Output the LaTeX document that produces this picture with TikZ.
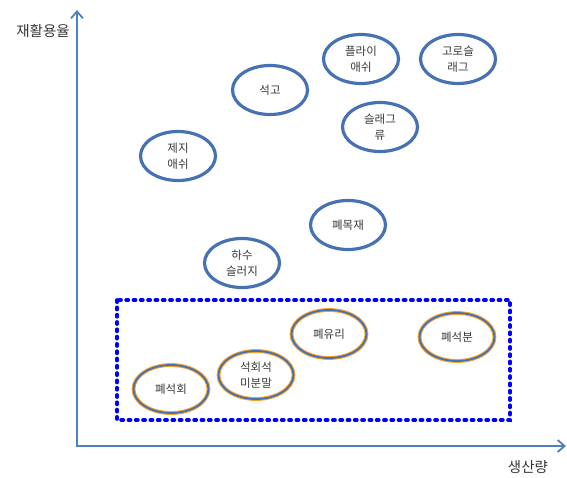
\documentclass[tikz,border=0pt]{standalone}
\usepackage{fontspec}
\newfontfamily\kr{Noto Sans CJK KR}
\usetikzlibrary{arrows.meta,shapes.geometric}
\definecolor{axisblue}{RGB}{79,129,189}
\definecolor{ringblue}{RGB}{70,114,180}
\definecolor{ringorange}{RGB}{247,160,40}
\definecolor{boxblue}{RGB}{0,0,255}
\begin{document}
\begin{tikzpicture}[x=1pt,y=-1pt,
  lbl/.style={font=\kr\fontsize{11.5}{16.5}\selectfont, text=black!78, align=center, inner sep=0pt},
  blueell/.style={draw=ringblue, line width=3.2pt, ellipse, minimum width=75pt, minimum height=49pt, lbl},
  orangeell/.style={draw=ringorange, double=ringblue, line width=1pt, double distance=1.8pt, ellipse, minimum width=75pt, minimum height=48pt, lbl},
  axis/.style={draw=axisblue, line width=1.8pt, -{Straight Barb[length=7pt,width=12pt,line width=1.8pt]}}]
\useasboundingbox (0,0) rectangle (567,477);
\coordinate (o) at (77,446);
\coordinate (ytop) at (77,10);
\coordinate (xend) at (566,446);
\draw[axis] (o) -- (ytop);
\draw[axis] ([xshift=-0.9pt]o) -- (xend);
\node[font=\kr\fontsize{14.5}{16}\selectfont, text=black!78] (ylab) at (43,31) {재활용율};
\node[font=\kr\fontsize{14.5}{16}\selectfont, text=black!78] (xlab) at (528,467) {생산량};
\draw[boxblue, line width=3.6pt, line cap=round, dash pattern=on 2.2pt off 5.1pt] (117,300) rectangle (510,420);
\node[blueell] (sg) at (270,90) {석고};
\node[blueell] (fa) at (361,59) {플라이\\애쉬};
\node[blueell] (gs) at (458,59) {고로슬\\래그};
\node[blueell] (sl) at (380,127) {슬래그\\류};
\node[blueell] (jj) at (178,156) {제지\\애쉬};
\node[blueell] (wm) at (348,225) {폐목재};
\node[blueell] (hs) at (242,263) {하수\\슬러지};
\node[orangeell] (gl) at (329,334) {폐유리};
\node[orangeell] (sb) at (457,337) {폐석분};
\node[orangeell] (ls) at (256,375) {석회석\\미분말};
\node[orangeell] (sh) at (171,389) {폐석회};
\end{tikzpicture}
\end{document}
